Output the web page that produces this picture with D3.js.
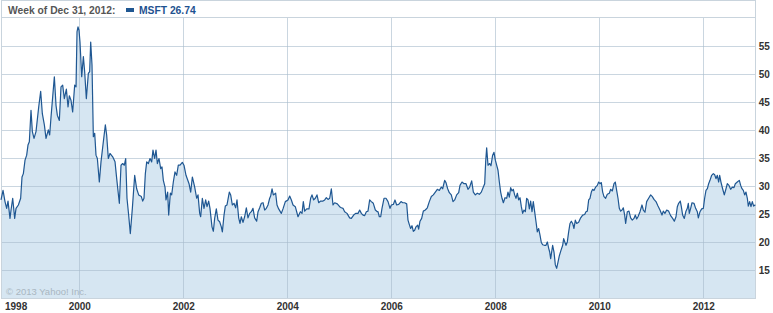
<!DOCTYPE html>
<html>
<head>
<meta charset="utf-8">
<script src="https://cdn.jsdelivr.net/npm/d3@7"></script>
<style>
  body { margin: 0; background: #fff; }
  svg { display: block; font-family: "Liberation Sans", Arial, sans-serif; }
</style>
</head>
<body>
<svg id="chart"></svg>
<script>
// weekly closes, dates as decimal years
var years = [
  1998.494,1998.533,1998.571,1998.603,1998.629,1998.667,1998.687,1998.719,1998.757,1998.783,
  1998.828,1998.872,1998.898,1998.924,1998.956,1998.988,1999.013,1999.039,1999.071,1999.097,
  1999.129,1999.167,1999.219,1999.257,1999.289,1999.328,1999.360,1999.404,1999.430,1999.456,
  1999.488,1999.520,1999.552,1999.578,1999.616,1999.648,1999.680,1999.712,1999.751,1999.783,
  1999.808,1999.840,1999.872,1999.911,1999.937,1999.956,1999.975,1999.994,2000.013,2000.046,
  2000.078,2000.103,2000.135,2000.174,2000.199,2000.219,2000.244,2000.270,2000.296,2000.321,
  2000.347,2000.385,2000.417,2000.462,2000.501,2000.526,2000.558,2000.590,2000.642,2000.687,
  2000.719,2000.770,2000.802,2000.834,2000.866,2000.892,2000.917,2000.949,2000.981,2001.020,
  2001.065,2001.103,2001.142,2001.193,2001.219,2001.244,2001.270,2001.296,2001.328,2001.360,
  2001.392,2001.417,2001.449,2001.475,2001.501,2001.533,2001.565,2001.590,2001.616,2001.648,
  2001.667,2001.699,2001.719,2001.751,2001.776,2001.808,2001.840,2001.872,2001.904,2001.937,
  2001.981,2002.013,2002.052,2002.110,2002.142,2002.174,2002.219,2002.257,2002.283,2002.315,
  2002.334,2002.366,2002.398,2002.430,2002.456,2002.488,2002.513,2002.552,2002.578,2002.603,
  2002.635,2002.667,2002.699,2002.731,2002.751,2002.783,2002.808,2002.840,2002.885,2002.911,
  2002.943,2002.975,2003.007,2003.033,2003.065,2003.090,2003.116,2003.148,2003.180,2003.212,
  2003.244,2003.276,2003.308,2003.340,2003.372,2003.411,2003.437,2003.469,2003.501,2003.533,
  2003.565,2003.597,2003.629,2003.661,2003.680,2003.706,2003.731,2003.776,2003.802,2003.834,
  2003.885,2003.917,2003.962,2004.013,2004.046,2004.078,2004.110,2004.154,2004.206,2004.251,
  2004.283,2004.308,2004.334,2004.373,2004.417,2004.449,2004.475,2004.507,2004.539,2004.571,
  2004.603,2004.642,2004.687,2004.719,2004.751,2004.783,2004.815,2004.847,2004.879,2004.911,
  2004.962,2005.007,2005.039,2005.071,2005.103,2005.148,2005.199,2005.231,2005.276,2005.315,
  2005.360,2005.392,2005.424,2005.456,2005.488,2005.520,2005.552,2005.584,2005.616,2005.654,
  2005.693,2005.731,2005.744,2005.770,2005.796,2005.821,2005.860,2005.898,2005.937,2005.975,
  2006.001,2006.039,2006.071,2006.103,2006.142,2006.187,2006.219,2006.257,2006.296,2006.321,
  2006.347,2006.372,2006.398,2006.424,2006.449,2006.475,2006.507,2006.526,2006.552,2006.584,
  2006.616,2006.654,2006.693,2006.731,2006.770,2006.808,2006.847,2006.885,2006.924,2006.962,
  2006.988,2007.026,2007.052,2007.084,2007.116,2007.154,2007.187,2007.219,2007.257,2007.296,
  2007.321,2007.360,2007.398,2007.437,2007.475,2007.507,2007.546,2007.578,2007.616,2007.654,
  2007.693,2007.731,2007.770,2007.796,2007.815,2007.834,2007.860,2007.892,2007.917,2007.949,
  2007.975,2008.001,2008.026,2008.052,2008.078,2008.103,2008.129,2008.155,2008.187,2008.219,
  2008.244,2008.270,2008.296,2008.321,2008.347,2008.372,2008.398,2008.424,2008.449,2008.475,
  2008.501,2008.526,2008.552,2008.578,2008.603,2008.629,2008.655,2008.680,2008.706,2008.731,
  2008.757,2008.783,2008.808,2008.834,2008.860,2008.885,2008.911,2008.943,2008.975,2009.001,
  2009.026,2009.046,2009.065,2009.084,2009.103,2009.129,2009.155,2009.180,2009.206,2009.231,
  2009.263,2009.296,2009.315,2009.340,2009.360,2009.385,2009.411,2009.437,2009.462,2009.488,
  2009.513,2009.539,2009.565,2009.603,2009.642,2009.680,2009.719,2009.744,2009.770,2009.796,
  2009.821,2009.847,2009.872,2009.898,2009.930,2009.962,2009.988,2010.013,2010.039,2010.065,
  2010.090,2010.122,2010.154,2010.193,2010.219,2010.251,2010.283,2010.308,2010.334,2010.360,
  2010.385,2010.411,2010.437,2010.462,2010.488,2010.507,2010.539,2010.571,2010.603,2010.635,
  2010.667,2010.693,2010.719,2010.744,2010.783,2010.821,2010.847,2010.879,2010.911,2010.949,
  2010.988,2011.020,2011.052,2011.090,2011.129,2011.167,2011.206,2011.231,2011.263,2011.296,
  2011.334,2011.372,2011.411,2011.443,2011.475,2011.501,2011.526,2011.558,2011.578,2011.603,
  2011.635,2011.667,2011.693,2011.712,2011.731,2011.757,2011.783,2011.821,2011.853,2011.885,
  2011.905,2011.937,2011.969,2012.001,2012.026,2012.052,2012.078,2012.103,2012.129,2012.161,
  2012.193,2012.219,2012.244,2012.270,2012.296,2012.315,2012.340,2012.372,2012.404,2012.437,
  2012.462,2012.494,2012.526,2012.558,2012.590,2012.616,2012.654,2012.693,2012.719,2012.744,
  2012.770,2012.796,2012.821,2012.847,2012.866,2012.892,2012.917,2012.943,2012.969,2013.001
];
var prices = [
  27.6,29.3,27.3,26.1,27.4,24.3,25.8,27.9,24.3,26.1,
  26.7,27.9,31.7,32.3,34.7,35.6,37.4,38.0,43.6,39.8,
  38.6,39.8,44.2,47.0,43.0,41.0,38.6,40.1,39.2,42.4,
  46.0,49.6,44.5,42.7,41.8,47.8,48.1,45.7,47.4,44.2,
  46.2,45.4,43.3,48.1,47.8,57.6,58.5,57.9,55.8,49.6,
  53.2,50.5,45.7,50.2,50.5,55.8,51.7,38.9,39.5,35.6,
  35.0,30.8,34.4,38.0,41.0,39.2,35.0,35.9,35.3,34.4,
  31.4,27.0,33.8,34.1,33.8,35.0,27.9,24.9,21.6,26.1,
  32.0,29.6,28.5,28.2,27.4,27.9,32.3,34.4,34.1,35.0,
  34.4,36.5,35.0,36.5,34.1,35.0,33.2,33.5,31.1,29.9,
  27.6,29.0,24.9,28.8,28.5,30.8,32.6,32.0,33.8,33.8,
  34.3,33.8,32.0,30.5,29.0,31.7,29.9,27.9,28.5,25.2,
  24.6,27.9,26.1,27.6,26.4,27.4,26.1,22.8,22.0,24.3,
  26.0,24.0,23.7,22.8,21.9,24.9,26.5,26.7,29.0,28.5,
  26.7,27.0,26.2,27.6,24.4,23.4,24.6,23.6,24.6,26.2,
  24.4,25.2,25.5,26.1,24.4,23.8,25.5,26.2,27.0,27.1,
  25.8,26.1,26.7,27.9,28.3,29.6,28.5,28.8,26.7,26.0,
  25.2,26.0,27.3,27.6,28.3,27.6,26.7,26.4,24.6,25.5,
  25.2,27.3,25.6,26.0,26.0,27.9,28.5,27.6,27.9,28.5,
  27.1,27.4,27.4,27.6,28.0,27.7,27.9,29.6,26.7,27.1,
  26.9,26.4,26.2,26.1,25.5,25.2,24.4,24.3,24.9,25.2,
  25.2,25.8,25.2,24.9,24.8,25.5,25.6,27.6,27.3,27.0,
  25.8,25.5,25.5,24.6,24.6,26.1,27.9,27.9,27.3,26.1,
  26.7,26.8,27.6,26.7,26.8,27.3,27.1,27.1,26.9,24.0,
  23.2,22.5,23.0,22.0,22.2,22.8,23.1,22.4,23.8,24.3,
  25.6,25.8,26.2,27.3,28.2,28.5,29.0,29.5,29.3,29.9,
  29.6,31.1,30.7,29.6,28.9,28.5,27.3,27.6,28.5,28.9,
  30.2,30.8,30.5,30.5,29.5,29.9,31.0,29.0,28.5,28.8,
  28.6,29.0,29.9,30.5,34.4,36.9,33.8,34.1,33.7,35.6,
  36.1,34.7,33.8,32.9,30.8,29.0,27.9,27.1,28.0,27.9,
  29.0,28.1,29.8,29.2,29.5,28.5,27.9,28.8,27.6,28.0,
  26.4,25.2,25.8,25.5,27.9,27.6,26.0,27.4,25.5,27.3,
  25.5,23.7,21.9,22.5,21.3,20.0,19.6,19.5,19.5,20.1,
  19.0,18.3,17.1,18.3,19.5,18.3,16.0,15.4,16.5,17.6,
  18.6,19.5,20.7,20.0,19.5,20.1,21.9,23.4,23.8,23.4,
  22.5,24.0,23.4,23.6,24.4,24.9,25.0,25.5,25.6,27.6,
  27.9,29.0,29.5,29.3,29.9,30.2,30.8,30.5,30.7,29.0,
  28.2,27.9,28.6,28.8,29.5,29.2,30.5,30.8,29.3,27.9,
  26.1,25.6,25.8,26.2,24.9,23.4,25.5,25.6,24.4,24.0,
  24.3,24.9,24.2,24.6,25.5,26.7,25.8,25.4,27.3,27.9,
  28.5,28.2,27.7,27.3,26.5,25.8,24.9,25.6,25.2,25.8,
  25.6,24.8,24.3,23.8,24.6,26.4,27.0,27.4,26.4,24.9,
  24.3,25.6,26.1,27.0,25.2,26.1,27.1,27.0,26.1,25.5,
  24.4,25.5,26.0,26.1,27.9,29.3,29.6,30.5,31.1,32.0,
  32.3,32.1,31.4,32.0,30.8,32.0,30.8,29.6,28.5,29.6,
  30.5,30.2,29.5,29.9,29.8,30.5,30.8,31.1,30.2,29.6,
  29.3,28.5,29.0,27.9,26.5,27.3,26.4,27.3,26.5,26.74
];
var yTicks = [15, 20, 25, 30, 35, 40, 45, 50, 55];
var xTicks = [2000, 2002, 2004, 2006, 2008, 2010, 2012];
var firstLabel = 1998;
var headerLabel = "Week of Dec 31, 2012:";
var seriesLabel = "MSFT 26.74";
var credit = "\u00a9 2013 Yahoo! Inc.";

(function () {
  var width = 773, height = 313;
  var plotLeft = 1, plotRight = 755.7, plotTop = 18.5, plotBottom = 298.5;
  var xEnd = 2013.008;
  var labelFont = "bold 10px 'Liberation Sans', Arial, sans-serif";

  var data = years.map(function(t, i) { return { t: t, v: prices[i] }; });

  var svg = d3.select("#chart").attr("width", width).attr("height", height);

  var x = d3.scaleLinear().domain([years[0], xEnd]).range([plotLeft, plotRight]);
  var y = d3.scaleLinear().domain([10, 60]).range([plotBottom, plotTop]);

  // area fill
  var area = d3.area()
      .x(function(d) { return x(d.t); })
      .y0(y(10))
      .y1(function(d) { return y(d.v); });
  svg.append("path")
      .datum(data)
      .attr("d", area)
      .attr("fill", "#d6e6f2");

  // grid
  var grid = svg.append("g")
      .attr("stroke", "#a6bbcb")
      .attr("stroke-opacity", 0.6)
      .attr("shape-rendering", "crispEdges");
  grid.selectAll("line.h")
      .data(yTicks)
      .enter().append("line")
      .attr("x1", plotLeft).attr("x2", plotRight)
      .attr("y1", function(d) { return Math.floor(y(d)) + 0.5; })
      .attr("y2", function(d) { return Math.floor(y(d)) + 0.5; });
  grid.selectAll("line.v")
      .data(xTicks)
      .enter().append("line")
      .attr("y1", 18).attr("y2", 298)
      .attr("x1", function(d) { return Math.floor(x(d)) + 0.5; })
      .attr("x2", function(d) { return Math.floor(x(d)) + 0.5; });

  // frame
  var frame = svg.append("g")
      .attr("fill", "none")
      .attr("stroke", "#c9d4dd")
      .attr("shape-rendering", "crispEdges");
  frame.append("rect").attr("x", 1.5).attr("y", 0.5).attr("width", 754).attr("height", 297.5);
  frame.append("line").attr("x1", 1.5).attr("x2", 755.5).attr("y1", 17.5).attr("y2", 17.5);

  // price line
  var line = d3.line()
      .x(function(d) { return x(d.t); })
      .y(function(d) { return y(d.v); });
  svg.append("path")
      .datum(data)
      .attr("d", line)
      .attr("fill", "none")
      .attr("stroke", "#1f5792")
      .attr("stroke-width", 1.2)
      .attr("stroke-linejoin", "round");

  // y axis labels
  var yAxis = d3.axisRight(y).tickValues(yTicks).tickSize(0).tickPadding(3);
  var gy = svg.append("g").attr("transform", "translate(" + plotRight + ",0)").call(yAxis);
  gy.select(".domain").remove();
  gy.selectAll("text")
      .attr("fill", "#333")
      .style("font", labelFont);

  // x axis labels
  var xAxis = d3.axisBottom(x).tickValues(xTicks).tickFormat(d3.format("d")).tickSize(0).tickPadding(4);
  var gx = svg.append("g").attr("transform", "translate(0," + plotBottom + ")").call(xAxis);
  gx.select(".domain").remove();
  gx.selectAll("text")
      .attr("fill", "#333")
      .style("font", labelFont);
  svg.append("text")
      .attr("x", 5).attr("y", 306)
      .attr("dy", "0.35em")
      .attr("fill", "#333")
      .style("font", labelFont)
      .text(firstLabel);

  // header
  svg.append("text")
      .attr("x", 8).attr("y", 10).attr("dy", "0.35em")
      .attr("fill", "#555")
      .style("font", "bold 10.3px 'Liberation Sans', Arial, sans-serif")
      .text(headerLabel);
  svg.append("rect")
      .attr("x", 126).attr("y", 8).attr("width", 8).attr("height", 4)
      .attr("fill", "#1f5792");
  svg.append("text")
      .attr("x", 139).attr("y", 10).attr("dy", "0.35em")
      .attr("fill", "#1e5290")
      .style("font", "bold 10.3px 'Liberation Sans', Arial, sans-serif")
      .text(seriesLabel);

  svg.append("text")
      .attr("x", 6).attr("y", 292).attr("dy", "0.35em")
      .attr("fill", "#a9b6c1")
      .style("font", "9.5px 'Liberation Sans', Arial, sans-serif")
      .text(credit);
})();
</script>
</body>
</html>
